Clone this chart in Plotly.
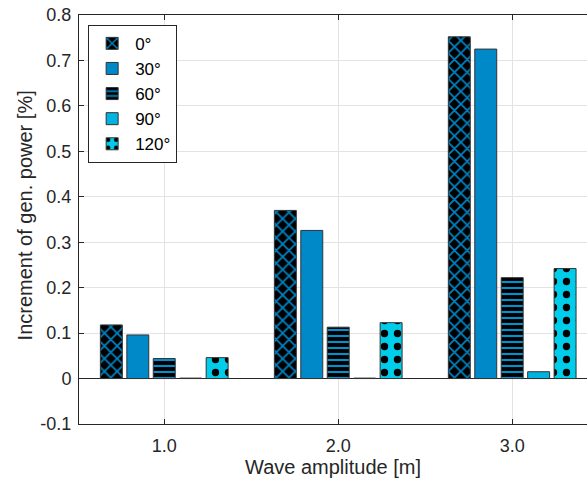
import plotly.graph_objects as go

# Wave amplitudes and incidence angles
amplitudes = [1.0, 2.0, 3.0]
amp_labels = ["1.0", "2.0", "3.0"]
angle_labels = ["0°", "30°", "60°", "90°", "120°"]

# Increment of generated power [%] per wave direction
inc_0 = [0.118, 0.370, 0.752]
inc_30 = [0.096, 0.326, 0.725]
inc_60 = [0.044, 0.113, 0.222]
inc_90 = [0.001, 0.001, 0.015]
inc_120 = [0.046, 0.123, 0.242]

y_ticks = [-0.1, 0, 0.1, 0.2, 0.3, 0.4, 0.5, 0.6, 0.7, 0.8]
y_labels = ["-0.1", "0", "0.1", "0.2", "0.3", "0.4", "0.5", "0.6", "0.7", "0.8"]

series = [inc_0, inc_30, inc_60, inc_90, inc_120]

styles = [
    dict(color="black", pattern=dict(shape="x", fgcolor="#0083C4", bgcolor="black",
                                     size=9, solidity=0.35, fillmode="replace")),
    dict(color="#0089C9"),
    dict(color="black", pattern=dict(shape="-", fgcolor="#0091CF", bgcolor="black",
                                     size=6, solidity=0.35, fillmode="replace")),
    dict(color="#00B3E0"),
    dict(color="#00CDEA", pattern=dict(shape=".", fgcolor="black", bgcolor="#00CDEA",
                                       size=13, solidity=0.25, fillmode="replace")),
]

fig = go.Figure()
for name, vals, st in zip(angle_labels, series, styles):
    fig.add_trace(go.Bar(
        x=amplitudes, y=vals, name=name,
        marker=dict(**st, line=dict(color="#333333", width=1)),
    ))

FONT = "Liberation Sans, Arial, sans-serif"
INK = "#262626"

fig.update_layout(
    width=587, height=481,
    margin=dict(l=79, r=0, t=15, b=57),
    paper_bgcolor="white", plot_bgcolor="white",
    barmode="group", bargap=0.24, bargroupgap=0.17,
    font=dict(family=FONT, size=18, color=INK),
    legend=dict(
        x=0.018, y=0.976, xanchor="left", yanchor="top",
        bgcolor="white", bordercolor=INK, borderwidth=1,
        font=dict(family=FONT, size=17, color="black"),
        tracegroupgap=0, itemwidth=36,
    ),
    xaxis=dict(
        range=[0.51, 3.43], tickvals=amplitudes, ticktext=amp_labels,
        tickfont=dict(size=18, color=INK),
        showgrid=True, gridcolor="#E3E3E3", gridwidth=1,
        showline=True, linecolor=INK, linewidth=1, mirror="ticks",
        ticks="inside", ticklen=5, tickcolor=INK, ticklabelstandoff=5,
        title=dict(text="Wave amplitude [m]", font=dict(size=20, color=INK), standoff=3),
        zeroline=False,
    ),
    yaxis=dict(
        range=[-0.1, 0.8], tickvals=y_ticks, ticktext=y_labels,
        tickfont=dict(size=18, color=INK),
        showgrid=True, gridcolor="#E3E3E3", gridwidth=1,
        showline=True, linecolor=INK, linewidth=1, mirror=False,
        ticks="inside", ticklen=5, tickcolor=INK, ticklabelstandoff=3,
        zeroline=True, zerolinecolor=INK, zerolinewidth=1,
    ),
    annotations=[dict(
        text="Increment of gen. power [%]", textangle=-90,
        xref="paper", yref="paper", x=-0.1063, y=0.51,
        xanchor="center", yanchor="middle", showarrow=False,
        font=dict(size=20, color=INK),
    )],
)

fig.write_html("out.html")
